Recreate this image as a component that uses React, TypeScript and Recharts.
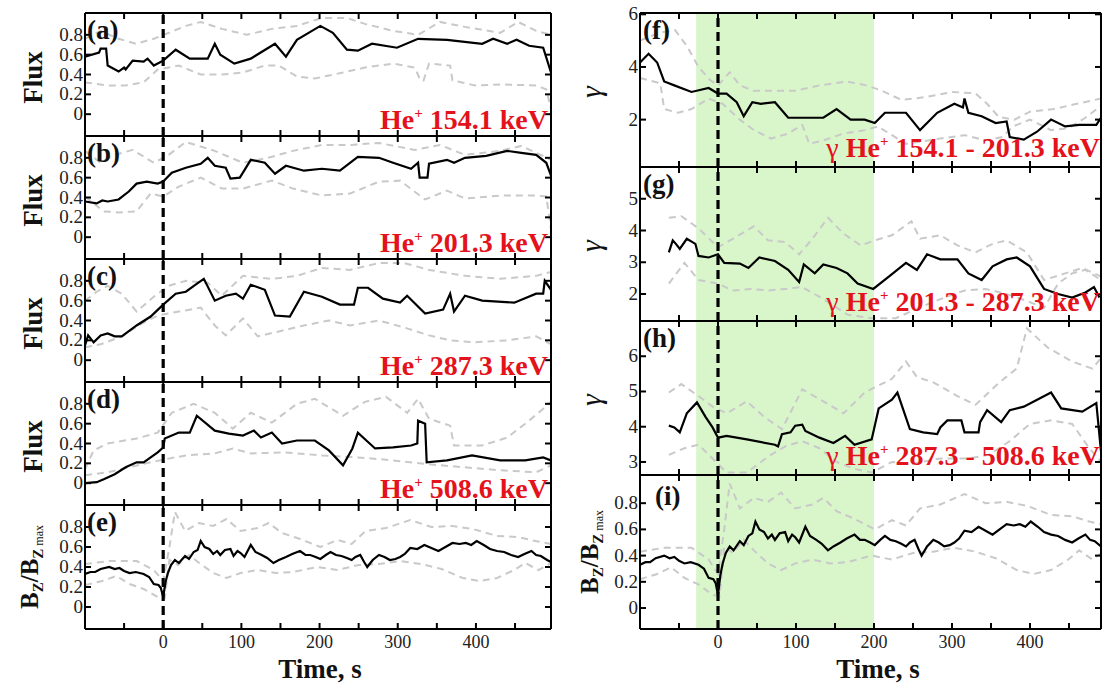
import React from 'react';
import { LineChart, Line, XAxis, YAxis, ReferenceLine, ReferenceArea } from 'recharts';

type P = [number, number][];

const SERIF = '"Liberation Serif", "Times New Roman", serif';
const RED = '#e3121b';
const GREY = '#c9c9c9';

// x axis
const timeTicks = [-50, 0, 50, 100, 150, 200, 250, 300, 350, 400, 450];
const timeLabels = [0, 100, 200, 300, 400];
const fluxTicks = [0, 0.2, 0.4, 0.6, 0.8];

// (a) He+ 154.1 keV
const aBlack: P = [[-100,0.58],[-82,0.62],[-80,0.66],[-73,0.66],[-71,0.49],[-57,0.43],[-50,0.47],[-48,0.45],[-39,0.54],[-25,0.53],[-20,0.56],[-12,0.49],[0,0.54],[16,0.65],[34,0.56],[57,0.56],[66,0.71],[73,0.6],[91,0.51],[112,0.56],[143,0.71],[157,0.58],[171,0.75],[201,0.89],[217,0.82],[235,0.65],[249,0.64],[267,0.71],[299,0.67],[326,0.76],[363,0.75],[408,0.71],[422,0.76],[440,0.71],[452,0.75],[468,0.69],[486,0.67],[496,0.42]];
const aUpper: P = [[-100,0.76],[-80,0.84],[-57,0.76],[-35,0.71],[-12,0.76],[7,0.82],[29,0.89],[48,0.93],[75,0.86],[107,0.8],[139,0.86],[171,0.89],[203,0.97],[235,0.97],[258,0.91],[294,0.84],[326,0.8],[354,0.93],[386,0.88],[431,0.82],[454,0.93],[477,0.84],[496,0.8]];
const aLower: P = [[-100,0.32],[-71,0.29],[-48,0.29],[-25,0.32],[-7,0.45],[20,0.49],[48,0.4],[75,0.4],[102,0.42],[130,0.49],[148,0.49],[171,0.38],[194,0.36],[230,0.42],[258,0.47],[294,0.51],[322,0.47],[329,0.34],[333,0.34],[340,0.51],[367,0.49],[370,0.34],[399,0.29],[431,0.3],[477,0.29],[490,0.25],[496,0.05]];

// (b) He+ 201.3 keV
const bBlack: P = [[-100,0.36],[-85,0.34],[-78,0.37],[-71,0.36],[-57,0.38],[-44,0.46],[-34,0.54],[-21,0.56],[-7,0.54],[0,0.56],[11,0.65],[29,0.7],[48,0.74],[57,0.8],[66,0.72],[80,0.7],[86,0.59],[98,0.6],[102,0.65],[112,0.78],[130,0.75],[143,0.64],[157,0.72],[180,0.67],[203,0.69],[226,0.67],[249,0.81],[276,0.8],[294,0.75],[317,0.69],[326,0.75],[328,0.6],[338,0.6],[340,0.74],[363,0.78],[372,0.75],[386,0.8],[413,0.82],[440,0.87],[458,0.85],[477,0.83],[490,0.75],[496,0.62]];
const bUpper: P = [[-100,0.87],[-80,0.75],[-62,0.83],[-39,0.88],[-12,0.75],[7,0.83],[29,0.96],[66,0.87],[102,0.75],[134,0.8],[166,0.87],[203,0.93],[239,0.93],[276,0.95],[322,0.88],[354,0.93],[386,0.83],[431,0.87],[458,0.92],[496,0.78]];
const bLower: P = [[-100,0.41],[-76,0.26],[-57,0.25],[-34,0.26],[-16,0.44],[0,0.41],[20,0.51],[48,0.6],[75,0.49],[102,0.49],[139,0.57],[166,0.49],[203,0.42],[239,0.44],[276,0.56],[303,0.57],[335,0.38],[363,0.47],[386,0.39],[431,0.42],[477,0.42],[490,0.41],[496,0.08]];

// (c) He+ 287.3 keV
const cBlack: P = [[-100,0.15],[-96,0.25],[-89,0.18],[-80,0.25],[-71,0.27],[-62,0.24],[-53,0.24],[-34,0.35],[-16,0.44],[0,0.56],[16,0.67],[29,0.69],[41,0.76],[52,0.82],[66,0.6],[80,0.65],[93,0.67],[102,0.62],[112,0.76],[130,0.71],[143,0.45],[162,0.44],[180,0.69],[203,0.64],[226,0.56],[244,0.56],[249,0.73],[262,0.73],[281,0.62],[303,0.58],[312,0.65],[335,0.47],[358,0.51],[367,0.67],[372,0.49],[386,0.65],[408,0.6],[449,0.58],[477,0.67],[486,0.67],[488,0.8],[496,0.71]];
const cUpper: P = [[-100,0.6],[-85,0.69],[-71,0.75],[-53,0.67],[-34,0.49],[-12,0.64],[7,0.75],[29,0.8],[57,0.78],[75,0.65],[102,0.85],[139,0.82],[171,0.85],[203,0.93],[239,0.91],[276,0.98],[308,0.98],[340,0.91],[386,0.85],[431,0.82],[477,0.85],[496,0.89]];
const cLower: P = [[-100,0.13],[-80,0.16],[-53,0.24],[-25,0.38],[-7,0.45],[20,0.49],[48,0.53],[66,0.35],[80,0.25],[102,0.42],[121,0.24],[148,0.29],[180,0.35],[212,0.4],[239,0.35],[276,0.4],[308,0.33],[340,0.25],[367,0.2],[399,0.18],[440,0.2],[477,0.24],[496,0.16]];

// (d) He+ 508.6 keV
const dBlack: P = [[-100,0.0],[-85,0.01],[-76,0.04],[-62,0.09],[-48,0.16],[-34,0.21],[-25,0.21],[-16,0.26],[-7,0.31],[0,0.36],[2,0.45],[20,0.51],[34,0.51],[43,0.68],[66,0.53],[84,0.5],[102,0.48],[116,0.53],[125,0.46],[139,0.51],[152,0.4],[171,0.43],[194,0.43],[212,0.33],[230,0.18],[242,0.35],[249,0.51],[271,0.35],[294,0.36],[317,0.38],[325,0.4],[326,0.63],[335,0.6],[337,0.21],[363,0.23],[395,0.28],[431,0.23],[463,0.23],[486,0.26],[496,0.23]];
const dUpper: P = [[-100,0.14],[-89,0.33],[-71,0.4],[-34,0.45],[-7,0.51],[11,0.71],[39,0.8],[66,0.71],[89,0.55],[112,0.71],[139,0.61],[171,0.8],[194,0.85],[230,0.68],[258,0.82],[285,0.87],[312,0.71],[326,0.85],[340,0.65],[367,0.58],[372,0.38],[408,0.38],[440,0.46],[468,0.63],[486,0.75],[496,0.82]];
const dLower: P = [[-100,0.08],[-71,0.11],[-44,0.16],[-16,0.21],[2,0.24],[29,0.28],[66,0.3],[89,0.35],[112,0.3],[157,0.31],[203,0.28],[249,0.26],[294,0.23],[340,0.19],[386,0.16],[431,0.13],[477,0.11],[496,0.18]];

// (e) and (i) Bz / Bz max
const bzBlack: P = [[-100,0.33],[-93,0.35],[-87,0.35],[-80,0.38],[-69,0.4],[-62,0.38],[-56,0.39],[-50,0.36],[-43,0.34],[-35,0.35],[-25,0.33],[-18,0.3],[-12,0.23],[-6,0.22],[-3,0.19],[0,0.1],[3,0.25],[6,0.34],[10,0.42],[15,0.47],[20,0.44],[28,0.51],[33,0.48],[39,0.55],[44,0.57],[48,0.66],[53,0.6],[59,0.58],[64,0.53],[69,0.56],[73,0.52],[79,0.57],[86,0.58],[90,0.51],[95,0.56],[99,0.54],[104,0.5],[112,0.62],[118,0.55],[126,0.52],[133,0.49],[141,0.44],[148,0.47],[157,0.5],[165,0.53],[175,0.56],[182,0.52],[188,0.52],[195,0.5],[201,0.48],[208,0.52],[214,0.55],[221,0.52],[228,0.51],[235,0.49],[241,0.47],[246,0.5],[252,0.52],[257,0.45],[261,0.4],[268,0.47],[276,0.52],[283,0.5],[290,0.47],[297,0.48],[303,0.5],[309,0.53],[316,0.59],[325,0.58],[334,0.62],[343,0.59],[352,0.56],[361,0.6],[370,0.64],[379,0.63],[387,0.64],[394,0.62],[401,0.66],[410,0.62],[418,0.58],[427,0.56],[436,0.55],[445,0.52],[454,0.5],[462,0.53],[471,0.56],[477,0.52],[483,0.51],[491,0.47],[496,0.45]];
const bzUpper: P = [[-100,0.43],[-69,0.46],[-34,0.46],[-12,0.37],[0,0.26],[8,0.6],[15,0.95],[28,0.76],[46,0.84],[64,0.81],[81,0.88],[99,0.76],[121,0.79],[135,0.84],[152,0.74],[175,0.68],[201,0.6],[223,0.67],[241,0.63],[259,0.76],[285,0.79],[316,0.87],[343,0.8],[370,0.81],[396,0.78],[427,0.71],[454,0.7],[476,0.66],[496,0.63]];
const bzLower: P = [[-100,0.22],[-78,0.26],[-60,0.31],[-43,0.23],[-25,0.18],[-7,0.1],[2,0.09],[8,0.47],[19,0.42],[33,0.52],[46,0.44],[64,0.34],[81,0.29],[99,0.34],[121,0.37],[144,0.34],[166,0.35],[197,0.4],[223,0.37],[250,0.42],[276,0.43],[303,0.46],[330,0.43],[356,0.38],[383,0.29],[405,0.26],[427,0.29],[449,0.37],[463,0.44],[480,0.37],[496,0.44]];

// (f) gamma 154.1 - 201.3 keV
const fBlack: P = [[-100,4.17],[-89,4.5],[-78,4.17],[-69,3.45],[-56,3.3],[-34,3.05],[-12,3.2],[0,2.99],[11,2.99],[24,2.66],[33,2.13],[44,2.66],[55,2.6],[73,2.66],[90,2.07],[108,2.07],[135,2.07],[152,2.4],[170,2.0],[188,2.0],[201,1.87],[214,2.26],[241,2.26],[259,1.6],[281,2.26],[303,2.6],[314,2.46],[316,2.8],[321,2.26],[338,2.13],[356,1.87],[370,1.93],[374,1.34],[392,1.24],[409,1.54],[427,2.0],[445,1.74],[463,1.8],[485,1.8],[491,2.07]];
const fUpper: P = [[-100,5.0],[-75,5.3],[-55,5.4],[-40,4.8],[-25,4.0],[-10,3.5],[0,3.3],[15,3.8],[28,3.3],[45,3.1],[70,3.1],[100,3.1],[130,3.3],[165,3.45],[190,3.3],[210,3.1],[235,2.75],[265,2.85],[300,3.05],[330,3.0],[345,2.6],[360,2.1],[380,2.0],[400,2.3],[430,2.4],[460,2.6],[491,2.8]];
const fLower: P = [[-100,3.58],[-74,3.38],[-69,2.4],[-51,2.26],[-34,2.4],[-12,2.8],[6,2.6],[28,2.0],[46,1.6],[68,1.28],[90,1.47],[108,1.8],[117,1.08],[135,1.21],[161,1.47],[188,1.6],[205,1.74],[223,1.41],[241,1.08],[285,1.28],[316,1.41],[343,1.21],[365,1.34],[378,1.74],[400,2.0],[427,1.6],[449,1.67],[471,2.07],[491,2.53]];

// (g) gamma 201.3 - 287.3 keV
const gBlack: P = [[-63,3.31],[-58,3.69],[-54,3.58],[-49,3.42],[-40,3.74],[-29,3.58],[-25,3.2],[-12,3.15],[0,3.25],[8,2.98],[28,2.96],[39,2.82],[53,3.15],[73,3.04],[90,2.76],[104,2.38],[110,2.93],[124,2.65],[135,2.93],[152,2.82],[166,2.65],[179,2.33],[199,2.16],[219,2.55],[241,2.98],[255,2.76],[268,3.25],[285,3.09],[307,3.09],[321,2.65],[338,2.44],[352,2.87],[370,3.09],[383,3.15],[400,2.87],[418,2.16],[436,2.0],[454,1.89],[471,2.05],[482,2.22],[489,1.89]];
const gUpper: P = [[-63,4.4],[-47,4.45],[-25,4.07],[0,3.47],[19,3.74],[46,4.13],[64,3.69],[86,3.64],[104,3.25],[121,3.74],[141,4.4],[161,3.9],[183,3.53],[201,3.69],[223,3.85],[248,4.29],[259,3.74],[285,3.85],[307,3.53],[330,3.31],[352,3.58],[370,3.69],[396,3.31],[418,2.44],[445,2.65],[467,2.82],[491,2.55]];
const gLower: P = [[-63,2.33],[-43,2.98],[-25,2.44],[0,2.33],[19,2.11],[42,2.16],[64,2.11],[86,2.16],[108,2.22],[135,1.84],[166,1.35],[197,1.24],[228,1.24],[263,1.62],[285,1.84],[316,2.11],[343,2.16],[370,2.0],[396,1.78],[418,1.56],[436,2.33],[454,2.65],[471,2.76],[491,2.44]];

// (h) gamma 287.3 - 508.6 keV
const hBlack: P = [[-63,4.03],[-56,3.98],[-49,3.84],[-40,4.38],[-27,4.69],[-16,4.28],[-7,3.98],[0,3.69],[11,3.74],[37,3.64],[73,3.49],[77,3.44],[82,3.79],[93,3.84],[99,4.03],[108,4.06],[112,3.88],[130,3.69],[148,3.54],[163,3.74],[175,3.49],[197,3.64],[206,4.52],[223,4.77],[230,4.97],[246,3.93],[263,3.84],[281,3.79],[285,3.98],[294,4.18],[312,4.18],[316,3.84],[334,3.84],[336,4.13],[345,4.47],[363,4.13],[374,4.47],[392,4.57],[427,4.97],[440,4.52],[467,4.43],[485,4.67],[491,3.3]];
const hUpper: P = [[-63,4.97],[-47,5.21],[-25,4.87],[-7,4.57],[11,4.38],[37,4.72],[59,4.28],[82,3.93],[108,5.06],[139,4.67],[161,4.38],[188,4.97],[223,5.36],[241,5.85],[255,5.41],[276,5.26],[307,4.87],[330,4.62],[361,5.26],[383,5.65],[396,6.79],[423,6.24],[454,5.85],[480,5.65],[491,5.95]];
const hLower: P = [[-63,3.2],[-43,3.39],[-25,3.49],[-7,3.1],[11,2.7],[37,2.7],[64,3.15],[86,3.44],[108,3.59],[130,3.39],[152,3.0],[175,2.8],[197,2.7],[223,3.0],[250,2.95],[285,3.1],[321,3.1],[347,3.2],[374,3.59],[400,4.08],[427,4.18],[454,4.08],[476,3.39],[491,3.0]];

const rows = (p: P) => p.map(([t, v]) => ({ t, v }));

const fmt = (v: number) => (v === 0 ? '0' : String(v));

const BottomTick = (props: any) => {
  const { x, y, payload, withLabel } = props;
  const v = payload.value;
  return (
    <g>
      <line x1={x} x2={x} y1={y} y2={y - 6} stroke="#000" strokeWidth={2} />
      {withLabel && timeLabels.includes(v) && (
        <text x={x} y={y + 19} textAnchor="middle" fontSize={18} fontFamily={SERIF} fill="#222">
          {v}
        </text>
      )}
    </g>
  );
};

const TopTick = (props: any) => {
  const { x, y } = props;
  return <line x1={x} x2={x} y1={y} y2={y + 6} stroke="#000" strokeWidth={2} />;
};

const LeftTick = (props: any) => {
  const { x, y, payload } = props;
  return (
    <g>
      <line x1={x} x2={x + 6} y1={y} y2={y} stroke="#000" strokeWidth={2} />
      <text x={x - 2} y={y + 6} textAnchor="end" fontSize={19} fontFamily={SERIF} fill="#222">
        {fmt(payload.value)}
      </text>
    </g>
  );
};

const RightTick = (props: any) => {
  const { x, y } = props;
  return <line x1={x} x2={x - 6} y1={y} y2={y} stroke="#000" strokeWidth={2} />;
};

type PanelProps = {
  left: number;
  top: number;
  w: number;
  h: number;
  xMax: number;
  yDomain: [number, number];
  yTicks: number[];
  black: P;
  upper: P;
  lower: P;
  bottom?: boolean;
  shade?: boolean;
};

const AX = 1; // thickness given to every axis band

const Panel = ({ left, top, w, h, xMax, yDomain, yTicks, black, upper, lower, bottom, shade }: PanelProps) => {
  const mT = 14;
  const mB = bottom ? 34 : 14;
  const mL = 60;
  const mR = 4;
  const axisLine = { stroke: '#000', strokeWidth: 2 };
  return (
    <div style={{ position: 'absolute', left: left - mL - AX, top: top - mT - AX }}>
      <LineChart
        width={w + mL + mR + 2 * AX}
        height={h + mT + mB + 2 * AX}
        margin={{ top: mT, right: mR, bottom: mB, left: mL }}
      >
        <XAxis
          xAxisId="b"
          dataKey="t"
          type="number"
          domain={[-100, xMax]}
          ticks={timeTicks}
          interval={0}
          height={AX}
          tickSize={0}
          tickMargin={0}
          tickLine={false}
          axisLine={axisLine}
          allowDataOverflow
          tick={(p: any) => <BottomTick {...p} withLabel={bottom} />}
        />
        <XAxis
          xAxisId="t"
          orientation="top"
          dataKey="t"
          type="number"
          domain={[-100, xMax]}
          ticks={timeTicks}
          interval={0}
          height={AX}
          tickSize={0}
          tickMargin={0}
          tickLine={false}
          axisLine={axisLine}
          allowDataOverflow
          tick={(p: any) => <TopTick {...p} />}
        />
        <YAxis
          yAxisId="l"
          type="number"
          domain={yDomain}
          ticks={yTicks}
          interval={0}
          width={AX}
          tickSize={0}
          tickMargin={0}
          tickLine={false}
          axisLine={axisLine}
          allowDataOverflow
          tick={(p: any) => <LeftTick {...p} />}
        />
        <YAxis
          yAxisId="r"
          orientation="right"
          type="number"
          domain={yDomain}
          ticks={yTicks}
          interval={0}
          width={AX}
          tickSize={0}
          tickMargin={0}
          tickLine={false}
          axisLine={axisLine}
          allowDataOverflow
          tick={(p: any) => <RightTick {...p} />}
        />
        {shade && (
          <ReferenceArea xAxisId="b" yAxisId="l" x1={-28} x2={200} fill="#d8f6ca" fillOpacity={1} stroke="none" />
        )}
        <Line xAxisId="b" yAxisId="l" data={rows(upper)} dataKey="v" type="linear" stroke={GREY} strokeWidth={2} strokeDasharray="7 5" dot={false} isAnimationActive={false} />
        <Line xAxisId="b" yAxisId="l" data={rows(lower)} dataKey="v" type="linear" stroke={GREY} strokeWidth={2} strokeDasharray="7 5" dot={false} isAnimationActive={false} />
        <Line xAxisId="b" yAxisId="l" data={rows(black)} dataKey="v" type="linear" stroke="#000" strokeWidth={2.2} dot={false} isAnimationActive={false} />
        <ReferenceLine xAxisId="b" yAxisId="l" x={0} stroke="#000" strokeWidth={3.2} strokeDasharray="9 5" />
      </LineChart>
    </div>
  );
};

const LX = 85;
const LW = 466;
const LMAX = 496;
const leftTops = [13, 136, 259, 382, 505];
const LH = 123;
const fluxDomain: [number, number] = [-0.22, 1.02];

const RX = 640;
const RW = 461;
const RMAX = 491;
const rightTops = [13, 167, 321, 475];
const RH = 154;

const leftEnergies = ['154.1', '201.3', '287.3', '508.6'];
const rightRanges = ['154.1 - 201.3', '201.3 - 287.3', '287.3 - 508.6'];
const leftLetters = ['(a)', '(b)', '(c)', '(d)', '(e)'];
const rightLetters = ['(f)', '(g)', '(h)', '(i)'];

const BzLabel = ({ x, y }: { x: number; y: number }) => (
  <text transform={`translate(${x},${y}) rotate(-90)`} textAnchor="middle" fontFamily={SERIF} fontWeight="bold" fontSize={25} fill="#111">
    B<tspan fontSize={15} dy={5}>Z</tspan>
    <tspan dy={-5}>/B</tspan>
    <tspan fontSize={15} dy={5}>Z</tspan>
    <tspan fontSize={12} fontWeight="normal" dy={0}>{' max'}</tspan>
  </text>
);

const App = () => {
  const leftSeries = [
    [aBlack, aUpper, aLower],
    [bBlack, bUpper, bLower],
    [cBlack, cUpper, cLower],
    [dBlack, dUpper, dLower],
  ];
  return (
    <div style={{ position: 'absolute', left: 0, top: 0, width: 1102, height: 683, background: '#fff', overflow: 'hidden' }}>
      {leftSeries.map((s, i) => (
        <Panel key={i} left={LX} top={leftTops[i]} w={LW} h={LH} xMax={LMAX} yDomain={fluxDomain} yTicks={fluxTicks} black={s[0]} upper={s[1]} lower={s[2]} />
      ))}
      <Panel left={LX} top={leftTops[4]} w={LW} h={LH + 1} xMax={LMAX} yDomain={fluxDomain} yTicks={fluxTicks} black={bzBlack} upper={bzUpper} lower={bzLower} bottom />

      <Panel left={RX} top={rightTops[0]} w={RW} h={RH} xMax={RMAX} yDomain={[0.2, 6.05]} yTicks={[2, 4, 6]} black={fBlack} upper={fUpper} lower={fLower} shade />
      <Panel left={RX} top={rightTops[1]} w={RW} h={RH} xMax={RMAX} yDomain={[1.15, 6.0]} yTicks={[2, 3, 4, 5]} black={gBlack} upper={gUpper} lower={gLower} shade />
      <Panel left={RX} top={rightTops[2]} w={RW} h={RH} xMax={RMAX} yDomain={[2.63, 7.0]} yTicks={[3, 4, 5, 6]} black={hBlack} upper={hUpper} lower={hLower} shade />
      <Panel left={RX} top={rightTops[3]} w={RW} h={RH} xMax={RMAX} yDomain={[-0.16, 1.015]} yTicks={fluxTicks} black={bzBlack} upper={bzUpper} lower={bzLower} shade bottom />

      <svg width={1102} height={683} style={{ position: 'absolute', left: 0, top: 0, pointerEvents: 'none' }}>
        {leftLetters.map((l, i) => (
          <text key={l} x={87} y={leftTops[i] + 26} fontFamily={SERIF} fontWeight="bold" fontSize={27} fill="#111">{l}</text>
        ))}
        {rightLetters.map((l, i) => (
          <text key={l} x={i === 3 ? 655 : 643} y={rightTops[i] + (i === 3 ? 30 : 26)} fontFamily={SERIF} fontWeight="bold" fontSize={27} fill="#111">{l}</text>
        ))}
        {leftEnergies.map((e, i) => (
          <text key={e} x={548} y={leftTops[i] + LH - 7} textAnchor="end" fontFamily={SERIF} fontWeight="bold" fontSize={28} fill={RED}>
            He<tspan fontSize={15} dy={-11}>+</tspan>
            <tspan dy={11}>{` ${e} keV`}</tspan>
          </text>
        ))}
        {rightRanges.map((r, i) => (
          <text key={r} x={1100} y={rightTops[i] + RH - 10} textAnchor="end" fontFamily={SERIF} fontWeight="bold" fontSize={28} fill={RED}>
            <tspan fontWeight="normal">γ</tspan>
            {' He'}
            <tspan fontSize={15} dy={-11}>+</tspan>
            <tspan dy={11}>{` ${r} keV`}</tspan>
          </text>
        ))}
        {leftTops.slice(0, 4).map((t, i) => (
          <text key={i} transform={`translate(33,${t + LH / 2 + 3}) rotate(-90)`} textAnchor="middle" dominantBaseline="central" fontFamily={SERIF} fontWeight="bold" fontSize={27} fill="#111">Flux</text>
        ))}
        {rightTops.slice(0, 3).map((t, i) => (
          <text key={i} transform={`translate(590,${t + RH / 2 + 2}) rotate(-90)`} textAnchor="middle" dominantBaseline="central" fontFamily={SERIF} fontStyle="italic" fontSize={30} fill="#111">γ</text>
        ))}
        <BzLabel x={38} y={567} />
        <BzLabel x={598} y={552} />
        <text x={320} y={678} textAnchor="middle" fontFamily={SERIF} fontWeight="bold" fontSize={27} fill="#111">Time, s</text>
        <text x={878} y={678} textAnchor="middle" fontFamily={SERIF} fontWeight="bold" fontSize={27} fill="#111">Time, s</text>
      </svg>
    </div>
  );
};

export default App;
